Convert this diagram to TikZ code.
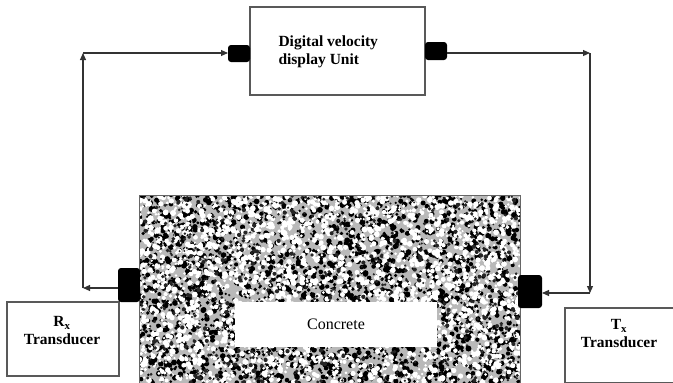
\documentclass[tikz,border=0pt]{standalone}
\usepackage{fontspec}
\setmainfont{Liberation Serif}
\usetikzlibrary{arrows.meta}

\tikzset{
  box/.style={draw=black!65, line width=1.2pt, fill=white, inner sep=0pt, outer sep=0pt},
  port/.style={fill=black, rounded corners=3pt, inner sep=0pt, outer sep=0pt},
  wire/.style={line width=1.1pt, black!80, -{Triangle[length=7pt,width=6pt]}},
  lbl/.style={font=\fontsize{15.5}{18}\selectfont\bfseries, align=center},
}

\begin{document}
\begin{tikzpicture}[x=1pt, y=-1pt]
	\useasboundingbox (0,0) rectangle (673,383);

	% concrete block
	\begin{scope}
		\clip (139,195) rectangle (520,383);
		\fill[gray!55] (139,195) rectangle (520,383);
		\pgfmathsetseed{17}
		\foreach \i in {1,...,2600}{
			\pgfmathsetmacro\px{139+381*rnd}
			\pgfmathsetmacro\py{195+188*rnd}
			\pgfmathsetmacro\pr{1.2+1.8*rnd}
			\fill[black] (\px,\py) circle (\pr pt);
		}
		\foreach \i in {1,...,2600}{
			\pgfmathsetmacro\px{139+381*rnd}
			\pgfmathsetmacro\py{195+188*rnd}
			\pgfmathsetmacro\pr{1.2+1.8*rnd}
			\fill[white] (\px,\py) circle (\pr pt);
		}
		\foreach \i in {1,...,900}{
			\pgfmathsetmacro\px{139+381*rnd}
			\pgfmathsetmacro\py{195+188*rnd}
			\pgfmathsetmacro\pr{0.8+1.4*rnd}
			\fill[black!85] (\px,\py) circle (\pr pt);
		}
	\end{scope}
	\node (block) [draw=black!60, line width=1pt, minimum width=381pt, minimum height=188pt, inner sep=0pt, outer sep=0pt] at (329.5,289) {};
	\node (concrete) [fill=white, minimum width=202pt, minimum height=45pt, inner sep=0pt, font=\fontsize{16}{19}\selectfont] at (336,324.5) {Concrete};

	% display unit
	\node (disp) [box, minimum width=175pt, minimum height=88pt] at (337.5,51) {};
	\node (disptext) [lbl, align=left, anchor=west] at (275,52) {Digital velocity\\display Unit};
	\node (porta) [port, minimum width=22pt, minimum height=17pt] at (239,53.5) {};
	\node (portb) [port, minimum width=22pt, minimum height=18pt] at (436,51) {};

	% transducers
	\node (rx) [box, minimum width=112pt, minimum height=74pt] at (63,339) {};
	\node (rxtext) [lbl] at (62,331) {R\textsubscript{x}\\Transducer};
	\node (tx) [box, minimum width=114pt, minimum height=75pt] at (622,345.5) {};
	\node (txtext) [lbl] at (619,334) {T\textsubscript{x}\\Transducer};
	\node (rxport) [port, minimum width=22pt, minimum height=34pt] at (129,285) {};
	\node (txport) [port, minimum width=24pt, minimum height=33pt] at (530,291.5) {};

	% connectors
	\coordinate (c1) at (83,288);
	\coordinate (c2) at (83,53);
	\coordinate (c3) at (590,53);
	\coordinate (c4) at (590,293);
	\draw[wire] (rxport.west |- c1) -- (c1);
	\draw[wire] (c1) -- (c2);
	\draw[wire] (c2) -- (porta.west |- c2);
	\draw[wire] (portb.east |- c3) -- (c3);
	\draw[wire] (c3) -- (c4);
	\draw[wire] (c4) -- (txport.east |- c4);
\end{tikzpicture}
\end{document}
